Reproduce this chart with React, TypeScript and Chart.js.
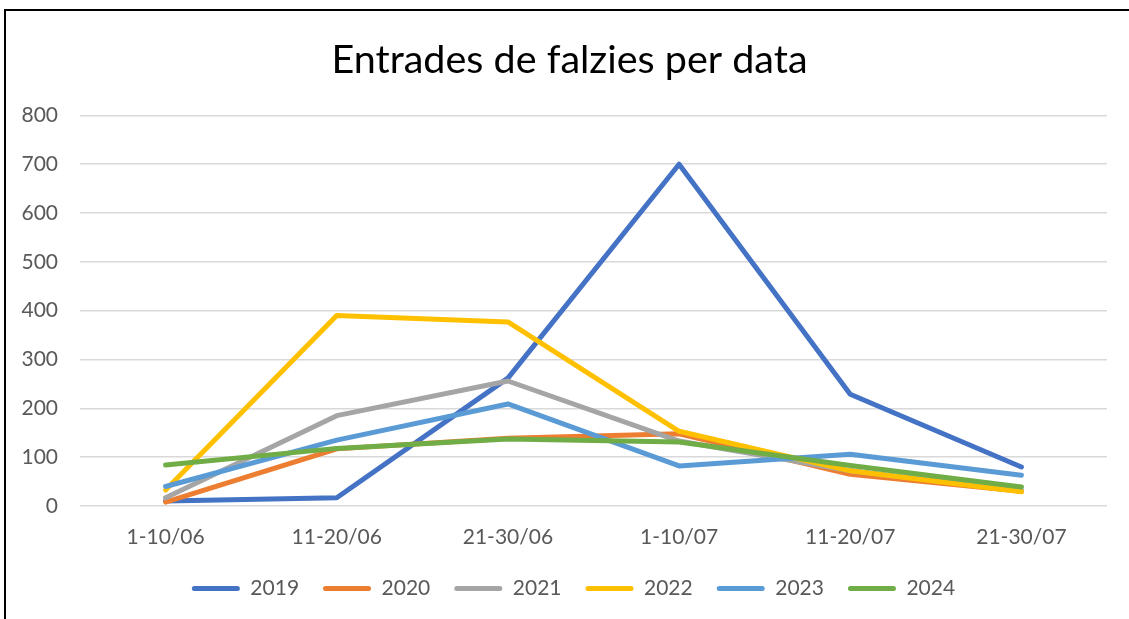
import React, { useEffect, useRef } from "react";
import { Chart, registerables } from "chart.js";

Chart.register(...registerables);

const categories = ["1-10/06", "11-20/06", "21-30/06", "1-10/07", "11-20/07", "21-30/07"];
const seriesNames = ["2019", "2020", "2021", "2022", "2023", "2024"];
const s2019 = [10, 17, 262, 700, 229, 80];
const s2020 = [8, 117, 139, 148, 65, 30];
const s2021 = [17, 185, 256, 133, 72, 32];
const s2022 = [33, 390, 377, 153, 72, 29];
const s2023 = [40, 135, 209, 82, 106, 63];
const s2024 = [84, 118, 137, 131, 83, 39];
const seriesValues = [s2019, s2020, s2021, s2022, s2023, s2024];
const colors = ["#4472C4", "#ED7D31", "#A5A5A5", "#FFC000", "#5B9BD5", "#70AD47"];
const yTicks = [0, 100, 200, 300, 400, 500, 600, 700, 800];

const FONT = "Lato";

const shiftBlocks = {
  id: "shiftBlocks",
  afterLayout(chart: any) {
    const t = chart.titleBlock;
    if (t) {
      t.left += 8;
      t.right += 8;
    }
    const l = chart.legend;
    if (l) {
      l.left += 12;
      l.right += 12;
    }
  },
};

export default function App() {
  const canvasRef = useRef<HTMLCanvasElement | null>(null);

  useEffect(() => {
    let chart: Chart | null = null;
    let cancelled = false;
    const make = () => {
      if (cancelled || !canvasRef.current) return;
      chart = new Chart(canvasRef.current, {
        type: "line",
        data: {
          labels: categories,
          datasets: seriesNames.map((name, i) => ({
            label: name,
            data: seriesValues[i],
            borderColor: colors[i],
            backgroundColor: colors[i],
            borderWidth: 5,
            borderCapStyle: "round" as const,
            borderJoinStyle: "round" as const,
            pointRadius: 0,
            pointHoverRadius: 0,
            tension: 0,
            fill: false,
            order: seriesNames.length - i,
          })),
        },
        plugins: [shiftBlocks],
        options: {
          animation: false,
          responsive: true,
          maintainAspectRatio: false,
          layout: { padding: { left: 16, right: 22, top: 0, bottom: 10 } },
          plugins: {
            tooltip: { enabled: false },
            title: {
              display: true,
              text: "Entrades de falzies per data",
              color: "#000000",
              font: { family: FONT, size: 39.5, weight: "normal" },
              padding: { top: 37, bottom: 31 },
            },
            legend: {
              position: "bottom",
              labels: {
                color: "#595959",
                font: { family: FONT, size: 21 },
                boxWidth: 48,
                boxHeight: 5,
                padding: 24,
                useBorderRadius: true,
                borderRadius: 2.5,
                sort: (a: any, b: any) => a.datasetIndex - b.datasetIndex,
                generateLabels: (c: any) =>
                  Chart.defaults.plugins.legend.labels
                    .generateLabels(c)
                    .map((it: any) => ({
                      ...it,
                      fillStyle: colors[it.datasetIndex],
                      strokeStyle: colors[it.datasetIndex],
                      lineWidth: 0,
                    })),
              },
            },
          },
          scales: {
            x: {
              offset: true,
              grid: { display: false },
              border: { display: false },
              ticks: {
                color: "#595959",
                font: { family: FONT, size: 21 },
                padding: 11,
                maxRotation: 0,
              },
              afterFit: (s: any) => {
                s.height = 48;
              },
            },
            y: {
              min: 0,
              max: 800,
              afterBuildTicks: (s: any) => {
                s.ticks = yTicks.map((v) => ({ value: v }));
              },
              grid: { color: "#D9D9D9", lineWidth: 1.5, drawTicks: false },
              border: { display: false },
              ticks: {
                color: "#595959",
                font: { family: FONT, size: 21 },
                padding: 22,
              },
              afterFit: (s: any) => {
                s.width = 64;
              },
            },
          },
        },
      });
    };
    const fontsReady = (document as any).fonts
      ? Promise.all([
          (document as any).fonts.load(`21px ${FONT}`),
          (document as any).fonts.load(`39.5px ${FONT}`),
        ]).catch(() => null)
      : Promise.resolve(null);
    fontsReady.then(make);
    return () => {
      cancelled = true;
      if (chart) chart.destroy();
    };
  }, []);

  return (
    <div
      style={{
        position: "absolute",
        left: 0,
        top: 0,
        width: 1129,
        height: 619,
        overflow: "hidden",
        background: "#ffffff",
      }}
    >
      <div
        style={{
          position: "absolute",
          left: 4,
          top: 9,
          width: 1200,
          height: 700,
          border: "2px solid #000000",
          boxSizing: "border-box",
          pointerEvents: "none",
        }}
      />
      <div style={{ position: "absolute", left: 0, top: 0, width: 1129, height: 619 }}>
        <canvas ref={canvasRef} />
      </div>
    </div>
  );
}
